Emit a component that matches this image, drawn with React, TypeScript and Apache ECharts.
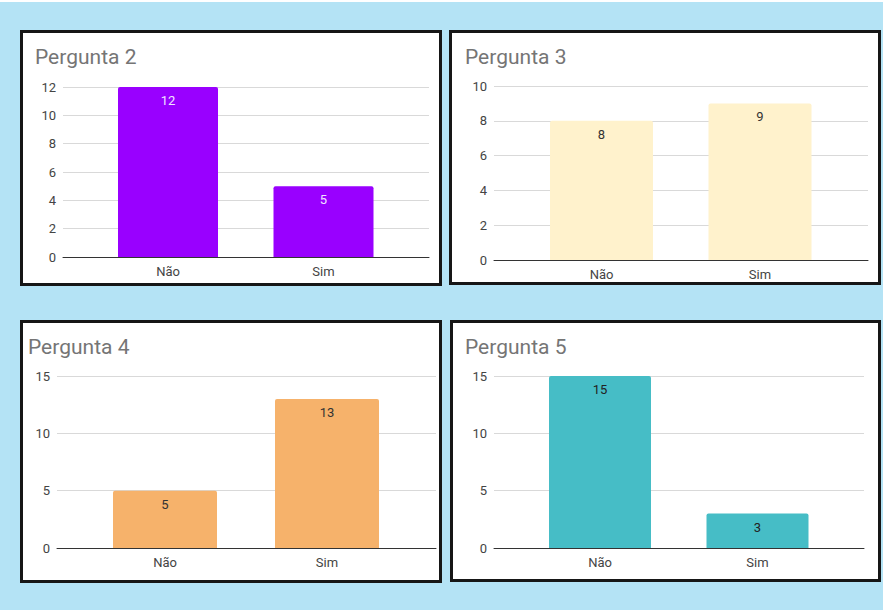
import React, { useEffect, useRef } from "react";
import * as echarts from "echarts";

// Answer counts per question
const categories = ["Não", "Sim"];
const pergunta2 = [12, 5];
const pergunta3 = [8, 9];
const pergunta4 = [5, 13];
const pergunta5 = [15, 3];

const titles = ["Pergunta 2", "Pergunta 3", "Pergunta 4", "Pergunta 5"];
const axisMax = [12, 10, 15, 15];
const axisStep = [2, 2, 5, 5];
const seriesValues = [pergunta2, pergunta3, pergunta4, pergunta5];

// Layout of each card: frame, title, plot area (gridlines) and bar band
const panels = [
  { box: [20, 30, 422, 256], titleX: 35, titleY: 57, plot: [63, 87, 366, 170], band: [90.25, 311], barWidth: 100, color: "#9900ff", labelColor: "#f1e3ff" },
  { box: [449, 30, 432, 255], titleX: 465, titleY: 57, plot: [494, 86, 374, 174], band: [522.25, 317], barWidth: 103, color: "#fff2cc", labelColor: "#333333" },
  { box: [20, 320, 422, 263], titleX: 28, titleY: 347, plot: [57, 376, 379, 172], band: [84, 324], barWidth: 104, color: "#f6b26b", labelColor: "#333333" },
  { box: [450, 320, 431, 262], titleX: 465, titleY: 347, plot: [494, 376, 370, 172], band: [521.25, 315], barWidth: 102, color: "#46bdc6", labelColor: "#222222" },
];

const FONT = "Roboto, 'Noto Sans', sans-serif";

function buildOption() {
  const grid: any[] = [];
  const xAxis: any[] = [];
  const yAxis: any[] = [];
  const series: any[] = [];
  const graphic: any[] = [
    { type: "rect", shape: { x: 0, y: 0, width: 883, height: 2 }, style: { fill: "#ffffff" }, silent: true },
  ];

  panels.forEach((p, i) => {
    const [bx, by, bw, bh] = p.box;
    graphic.push({
      type: "rect",
      z: -1,
      shape: { x: bx + 1.5, y: by + 1.5, width: bw - 3, height: bh - 3 },
      style: { fill: "#ffffff", stroke: "#161616", lineWidth: 3 },
      silent: true,
    });
    graphic.push({
      type: "text",
      x: p.titleX,
      y: p.titleY,
      style: {
        text: titles[i],
        fill: "#757575",
        fontSize: 21,
        fontFamily: FONT,
        verticalAlign: "middle",
        align: "left",
      },
      silent: true,
    });

    const [px, py, pw, ph] = p.plot;
    // grid for gridlines, value labels and baseline
    const gA = grid.length;
    grid.push({ left: px, top: py, width: pw, height: ph });
    xAxis.push({
      type: "category",
      gridIndex: gA,
      data: categories,
      axisLine: { show: true, lineStyle: { color: "#333333", width: 1 } },
      axisTick: { show: false },
      axisLabel: { show: false },
      z: 5,
    });
    yAxis.push({
      type: "value",
      gridIndex: gA,
      min: 0,
      max: axisMax[i],
      interval: axisStep[i],
      axisLine: { show: false },
      axisTick: { show: false },
      axisLabel: { color: "#444444", fontSize: 13, fontFamily: FONT, margin: 7 },
      splitLine: { show: true, lineStyle: { color: "#d9d9d9", width: 1 } },
    });

    // grid for the bars and category labels
    const gB = grid.length;
    grid.push({ left: p.band[0], top: py, width: p.band[1], height: ph });
    xAxis.push({
      type: "category",
      gridIndex: gB,
      data: categories,
      axisLine: { show: false },
      axisTick: { show: false },
      axisLabel: { color: "#444444", fontSize: 13, fontFamily: FONT, margin: 8 },
    });
    yAxis.push({
      type: "value",
      gridIndex: gB,
      min: 0,
      max: axisMax[i],
      interval: axisStep[i],
      show: false,
      splitLine: { show: false },
    });
    series.push({
      type: "bar",
      name: titles[i],
      xAxisIndex: xAxis.length - 1,
      yAxisIndex: yAxis.length - 1,
      data: seriesValues[i],
      barWidth: p.barWidth,
      itemStyle: { color: p.color, borderRadius: [2, 2, 0, 0] },
      label: {
        show: true,
        position: "insideTop",
        distance: 7,
        color: p.labelColor,
        fontSize: 13,
        fontFamily: FONT,
      },
      z: 2,
    });
  });

  return {
    animation: false,
    backgroundColor: "#b4e3f5",
    grid,
    xAxis,
    yAxis,
    series,
    graphic,
  };
}

export default function App() {
  const ref = useRef<HTMLDivElement>(null);
  useEffect(() => {
    if (!ref.current) return;
    const chart = echarts.init(ref.current, undefined, { renderer: "svg" });
    chart.setOption(buildOption());
    return () => chart.dispose();
  }, []);
  return (
    <div
      ref={ref}
      style={{ position: "fixed", left: 0, top: 0, width: 883, height: 610 }}
    />
  );
}
